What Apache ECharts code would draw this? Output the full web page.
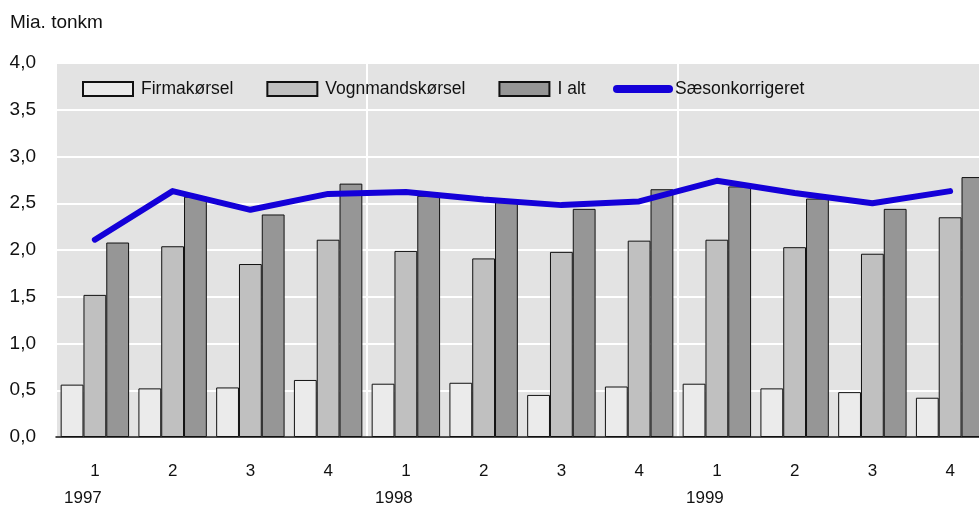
<!DOCTYPE html>
<html>
<head>
<meta charset="utf-8">
<script src="https://cdn.jsdelivr.net/npm/echarts@6/dist/echarts.min.js"></script>
<style>
  html, body { margin: 0; padding: 0; background: #fff; }
  #chart { width: 979px; height: 509px; }
</style>
</head>
<body>
<div id="chart"></div>
<script>
  const chart = echarts.init(document.getElementById('chart'));

  // kvartaler 1997-1999
  const quarters = ['1', '2', '3', '4', '1', '2', '3', '4', '1', '2', '3', '4'];
  const years = ['1997', '', '', '', '1998', '', '', '', '1999', '', '', ''];
  const firma = [0.56, 0.52, 0.53, 0.61, 0.57, 0.58, 0.45, 0.54, 0.57, 0.52, 0.48, 0.42];
  const vognmand = [1.52, 2.04, 1.85, 2.11, 1.99, 1.91, 1.98, 2.10, 2.11, 2.03, 1.96, 2.35];
  const ialt = [2.08, 2.57, 2.38, 2.71, 2.58, 2.52, 2.44, 2.65, 2.68, 2.55, 2.44, 2.78];
  const saeson = [2.11, 2.63, 2.43, 2.60, 2.62, 2.54, 2.48, 2.52, 2.74, 2.61, 2.50, 2.63];
  const yTicks = [0, 0.5, 1, 1.5, 2, 2.5, 3, 3.5, 4];

  const font = '"Liberation Sans", Arial, sans-serif';
  const txt = '#111';

  const barStyle = function (c) {
    return { color: c, borderColor: '#111', borderWidth: 1 };
  };

  const option = {
    textStyle: { fontFamily: font, color: txt },
    title: {
      text: 'Mia. tonkm',
      left: 5,
      top: 8,
      textStyle: { fontSize: 19, fontWeight: 'normal', color: txt, fontFamily: font }
    },
    legend: [{
      data: ['Firmakørsel', 'Vognmandskørsel', 'I alt'],
      left: 77,
      top: 75,
      itemWidth: 50,
      itemHeight: 14,
      itemGap: 33,
      icon: 'rect',
      textStyle: { fontSize: 17.5, color: txt, fontFamily: font, padding: [0, 0, 0, 3] }
    }, {
      data: ['Sæsonkorrigeret'],
      left: 608,
      top: 75,
      itemWidth: 60,
      itemHeight: 9,
      icon: 'path://M4,0 H56 A4,4 0 0 1 56,8 H4 A4,4 0 0 1 4,0 Z',
      itemStyle: { color: '#1400d8' },
      textStyle: { fontSize: 17.5, color: txt, fontFamily: font, padding: [0, 0, 0, -3] }
    }],
    grid: {
      left: 56,
      width: 933,
      top: 63,
      bottom: 72,
      outerBoundsMode: 'none',
      show: true,
      backgroundColor: '#e3e3e3',
      borderWidth: 0
    },
    xAxis: {
      type: 'category',
      data: quarters,
      boundaryGap: true,
      axisLine: { show: true, lineStyle: { color: '#111', width: 1.5 } },
      axisTick: { show: false },
      splitLine: {
        show: true,
        interval: function (i) { return i % 4 === 0; },
        lineStyle: { color: '#fff', width: 2 }
      },
      axisLabel: {
        margin: 21,
        interval: 0,
        formatter: function (v, i) {
          return '{q|' + v + '}\n{y|' + (years[i] || ' ') + '}';
        },
        rich: {
          q: { fontSize: 17, align: 'center', color: txt, fontFamily: font, lineHeight: 27 },
          y: { fontSize: 17, align: 'center', color: txt, fontFamily: font, lineHeight: 27, padding: [0, 24, 0, 0] }
        }
      }
    },
    yAxis: {
      type: 'value',
      min: yTicks[0],
      max: yTicks[yTicks.length - 1],
      interval: 0.5,
      axisLine: { show: false },
      axisTick: { show: false },
      splitLine: { show: true, lineStyle: { color: '#fff', width: 2 } },
      axisLabel: {
        margin: 20,
        fontSize: 19,
        color: txt,
        fontFamily: font,
        formatter: function (v) { return v.toFixed(1).replace('.', ','); }
      }
    },
    series: [
      {
        name: 'Firmakørsel',
        type: 'bar',
        data: firma,
        barGap: '0%',
        barCategoryGap: '12%',
        itemStyle: barStyle('#ebebeb')
      },
      {
        name: 'Vognmandskørsel',
        type: 'bar',
        data: vognmand,
        itemStyle: barStyle('#c0c0c0')
      },
      {
        name: 'I alt',
        type: 'bar',
        data: ialt,
        itemStyle: barStyle('#969696')
      },
      {
        name: 'Sæsonkorrigeret',
        type: 'line',
        data: saeson,
        symbol: 'none',
        z: 5,
        itemStyle: { color: '#1400d8' },
        lineStyle: { color: '#1400d8', width: 6, cap: 'round', join: 'round' }
      }
    ],
    animation: false
  };

  chart.setOption(option);
</script>
</body>
</html>
